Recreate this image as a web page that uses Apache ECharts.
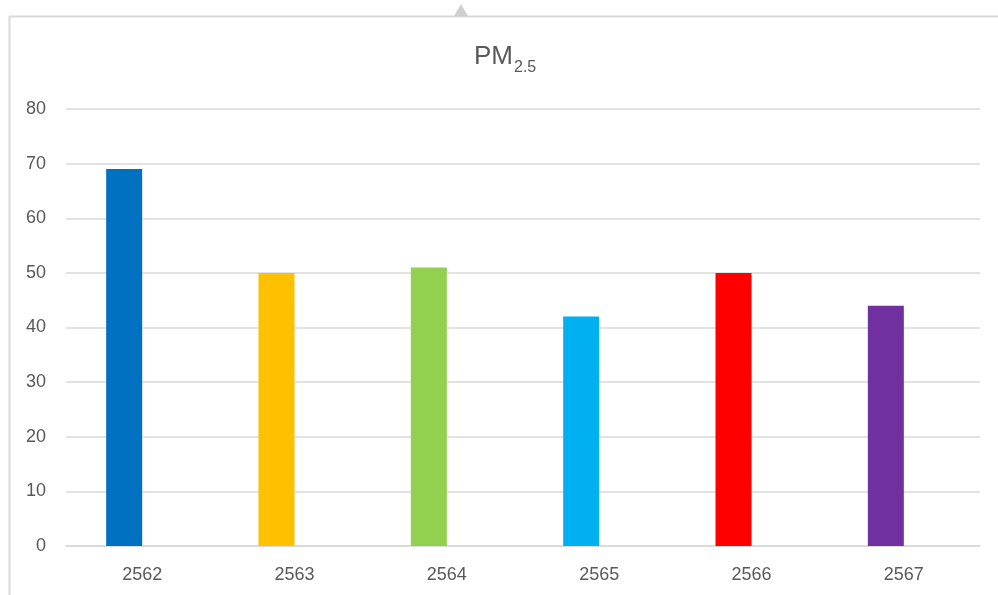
<!DOCTYPE html>
<html>
<head>
<meta charset="utf-8">
<script src="https://cdn.jsdelivr.net/npm/echarts@6/dist/echarts.min.js"></script>
<style>
  html, body { margin: 0; padding: 0; background: #fff; }
  #chart { width: 998px; height: 595px; }
</style>
</head>
<body>
<div id="chart"></div>
<script>
// Annual PM2.5 values by Buddhist-era year
const years = ['2562', '2563', '2564', '2565', '2566', '2567'];
const pm25 = [69, 50, 51, 42, 50, 44];
const barColors = ['#0070C0', '#FFC000', '#92D050', '#00B0F0', '#FF0000', '#7030A0'];
const yTicks = [0, 10, 20, 30, 40, 50, 60, 70, 80];

const textColor = '#595959';
const lineColor = '#D9D9D9';
const fontFamily = '"Liberation Sans", Arial, sans-serif';

const chart = echarts.init(document.getElementById('chart'), null, { renderer: 'canvas' });

chart.setOption({
  backgroundColor: '#fff',
  animation: false,
  textStyle: { fontFamily: fontFamily },
  title: {
    text: '{main|PM}{sub|2.5}',
    left: 469,
    top: 35,
    textStyle: {
      fontWeight: 'normal',
      rich: {
        main: { fontSize: 26, fontWeight: 'normal', color: textColor, fontFamily: fontFamily, verticalAlign: 'bottom', lineHeight: 30 },
        sub: { fontSize: 16, fontWeight: 'normal', color: textColor, fontFamily: fontFamily, verticalAlign: 'bottom', lineHeight: 30, padding: [0, 0, -6, 1] }
      }
    }
  },
  graphic: [
    // chart frame edges and selection handle
    { type: 'line', shape: { x1: 9.5, y1: 16, x2: 9.5, y2: 595 }, style: { stroke: lineColor, lineWidth: 2 }, silent: true },
    { type: 'line', shape: { x1: 9, y1: 16.5, x2: 998, y2: 16.5 }, style: { stroke: lineColor, lineWidth: 2 }, silent: true },
    { type: 'polygon', shape: { points: [[454, 16], [468, 16], [461, 4]] }, style: { fill: '#D0D0D0' }, silent: true }
  ],
  grid: { left: 66, right: 18, top: 109, bottom: 49, containLabel: false },
  xAxis: {
    type: 'category',
    data: years,
    axisLine: { show: true, lineStyle: { color: lineColor, width: 1.5 } },
    axisTick: { show: false },
    axisLabel: { color: textColor, fontSize: 18, margin: 20, fontFamily: fontFamily }
  },
  yAxis: {
    type: 'value',
    min: yTicks[0],
    max: yTicks[yTicks.length - 1],
    interval: 10,
    axisLine: { show: false },
    axisTick: { show: false },
    splitLine: { lineStyle: { color: lineColor, width: 1.5 } },
    axisLabel: { color: textColor, fontSize: 18, margin: 20, fontFamily: fontFamily }
  },
  series: [
    {
      type: 'bar',
      barWidth: 36,
      barGap: '0%',
      data: pm25.map((v, i) => ({ value: v, itemStyle: { color: barColors[i] } }))
    },
    {
      // empty companion series keeps each bar left of its category centre
      type: 'bar',
      barWidth: 36,
      data: years.map(() => null)
    }
  ]
});
</script>
</body>
</html>
